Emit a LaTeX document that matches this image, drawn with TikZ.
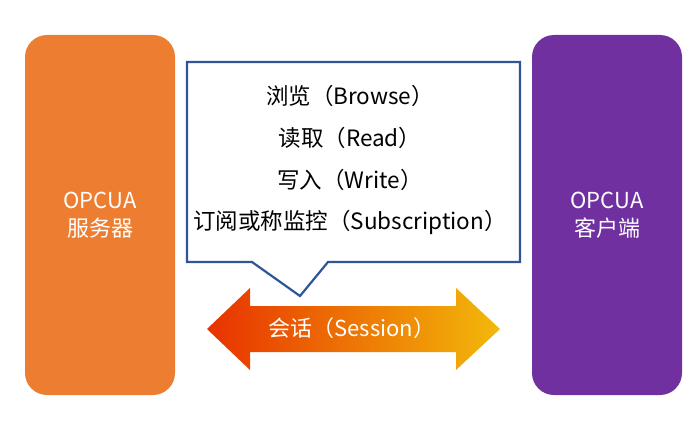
\documentclass[tikz,border=0pt]{standalone}
\usepackage{fontspec}
\setmainfont{Noto Sans CJK SC}
\definecolor{orng}{RGB}{237,125,49}
\definecolor{purp}{RGB}{112,48,160}
\definecolor{bord}{RGB}{47,85,151}
\definecolor{arL}{RGB}{232,50,0}
\definecolor{arR}{RGB}{242,185,10}
\begin{document}
\begin{tikzpicture}[x=1pt,y=-1pt,
  side/.style={rounded corners=22pt},
  lbl/.style={text=white,font=\fontsize{22}{28}\selectfont,align=center},
  item/.style={font=\fontsize{22.5}{27}\selectfont}]
\useasboundingbox (0,0) rectangle (700,420);
\fill[orng,side] (25,35) rectangle (175,395);
\fill[purp,side] (532,35) rectangle (682,395);
\node[lbl] (srv) at (100,215) {OPCUA\\服务器};
\node[lbl] (cli) at (607,215) {OPCUA\\客户端};
\draw[bord,line width=2.2pt,fill=white,line join=miter]
  (187,62) -- (520,62) -- (520,262) -- (328,262) -- (300,296) -- (252,262) -- (187,262) -- cycle;
\node[item] (b) at (350,96) {浏览（Browse）};
\node[item] (r) at (350,138) {读取（Read）};
\node[item] (w) at (350,180) {写入（Write）};
\node[item] (s) at (350,222) {订阅或称监控（Subscription）};
\shade[left color=arL,right color=arR]
  (207,329) -- (250,288) -- (250,306) -- (456,306) -- (456,288) -- (500,329)
  -- (456,370) -- (456,352) -- (250,352) -- (250,370) -- cycle;
\node[lbl] (ses) at (352,328) {会话（Session）};
\end{tikzpicture}
\end{document}
